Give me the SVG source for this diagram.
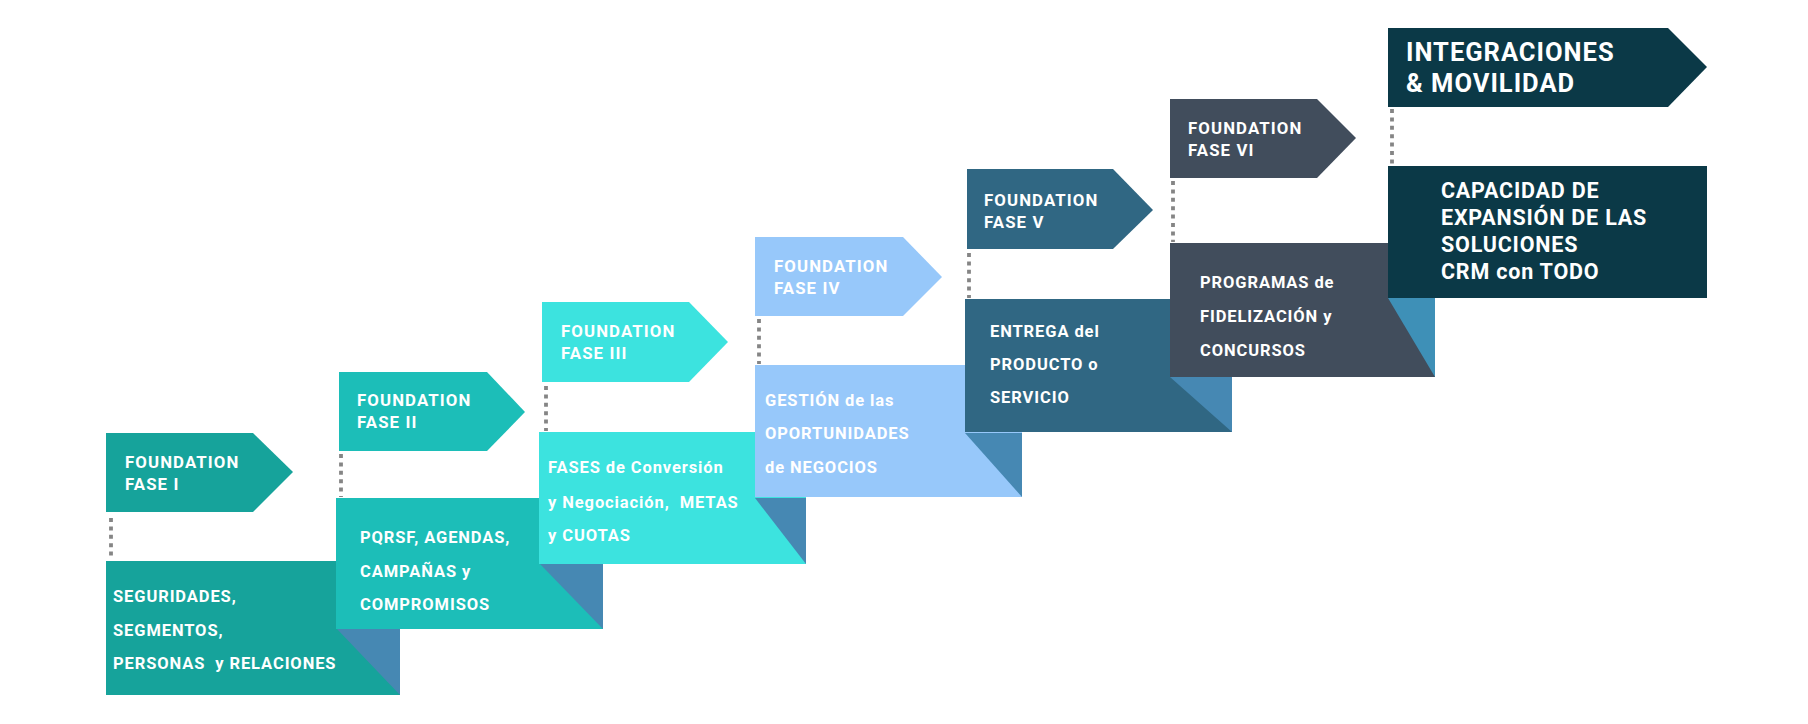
<svg xmlns="http://www.w3.org/2000/svg" width="1808" height="724" viewBox="0 0 1808 724">
<style>
text{font-family:Roboto,"Liberation Sans",sans-serif;font-weight:700;fill:#ffffff;white-space:pre}
.tg{font-size:16.8px;letter-spacing:1.1px}
.bd{font-size:16.5px;letter-spacing:0.9px}
.big{font-size:25.5px;letter-spacing:1px}
.cap{font-size:21.5px;letter-spacing:0.8px}
.fold{fill:#4688B3}
.fold2{fill:#3E90B7}
.dots{stroke:#858585;stroke-width:3.8;stroke-dasharray:4 4.4;fill:none}
.c1{fill:#16A39B}.c2{fill:#1CBEB8}.c3{fill:#3CE3DF}.c4{fill:#97C8FA}.c5{fill:#306783}.c6{fill:#414D5C}.c7{fill:#0B3947}
</style>
<rect width="1808" height="724" fill="#ffffff"/>
<g id="connectors">
<line class="dots" x1="111" y1="518" x2="111" y2="558"/>
<line class="dots" x1="341" y1="454" x2="341" y2="497"/>
<line class="dots" x1="546" y1="386" x2="546" y2="431"/>
<line class="dots" x1="759" y1="319" x2="759" y2="364"/>
<line class="dots" x1="969" y1="253" x2="969" y2="298"/>
<line class="dots" x1="1173" y1="181" x2="1173" y2="242"/>
<line class="dots" x1="1392" y1="109" x2="1392" y2="164"/>
</g>
<g id="box1">
<rect class="c1" x="106" y="561" width="294" height="134"/>
<polygon class="fold" points="337,629 400,629 400,695"/>
<text class="bd" x="113" y="602">SEGURIDADES,</text>
<text class="bd" x="113" y="636">SEGMENTOS,</text>
<text class="bd" x="113" y="669">PERSONAS  y RELACIONES</text>
</g>
<g id="box2">
<rect class="c2" x="336" y="498" width="267" height="131"/>
<polygon class="fold" points="540,564 603,564 603,629"/>
<text class="bd" x="360" y="543">PQRSF, AGENDAS,</text>
<text class="bd" x="360" y="577">CAMPAÑAS y</text>
<text class="bd" x="360" y="610">COMPROMISOS</text>
</g>
<g id="box3">
<rect class="c3" x="539" y="432" width="267" height="132"/>
<polygon class="fold" points="755,498 806,498 806,564"/>
<text class="bd" x="548" y="473">FASES de Conversión</text>
<text class="bd" x="548" y="508">y Negociación,  METAS</text>
<text class="bd" x="548" y="541">y CUOTAS</text>
</g>
<g id="box4">
<rect class="c4" x="755" y="365" width="267" height="132"/>
<polygon class="fold" points="965,433 1022,433 1022,497"/>
<text class="bd" x="765" y="406">GESTIÓN de las</text>
<text class="bd" x="765" y="439">OPORTUNIDADES</text>
<text class="bd" x="765" y="473">de NEGOCIOS</text>
</g>
<g id="box5">
<rect class="c5" x="965" y="299" width="267" height="133"/>
<polygon class="fold" points="1170,377 1232,377 1232,432"/>
<text class="bd" x="990" y="337">ENTREGA del</text>
<text class="bd" x="990" y="370">PRODUCTO o</text>
<text class="bd" x="990" y="403">SERVICIO</text>
</g>
<g id="box6">
<rect class="c6" x="1170" y="243" width="265" height="134"/>
<polygon class="fold2" points="1388,298 1435,298 1435,377"/>
<text class="bd" x="1200" y="288">PROGRAMAS de</text>
<text class="bd" x="1200" y="322">FIDELIZACIÓN y</text>
<text class="bd" x="1200" y="356">CONCURSOS</text>
</g>
<g id="box7">
<rect class="c7" x="1388" y="166" width="319" height="132"/>
<text class="cap" x="1441" y="198">CAPACIDAD DE</text>
<text class="cap" x="1441" y="225">EXPANSIÓN DE LAS</text>
<text class="cap" x="1441" y="252">SOLUCIONES</text>
<text class="cap" x="1441" y="279">CRM con TODO</text>
</g>
<g id="tag1">
<polygon class="c1" points="106,433 253,433 293,472 253,512 106,512"/>
<text class="tg" x="125" y="468">FOUNDATION</text>
<text class="tg" x="125" y="490">FASE I</text>
</g>
<g id="tag2">
<polygon class="c2" points="339,372 487,372 525,412 487,451 339,451"/>
<text class="tg" x="357" y="406">FOUNDATION</text>
<text class="tg" x="357" y="428">FASE II</text>
</g>
<g id="tag3">
<polygon class="c3" points="542,302 689,302 728,342 689,382 542,382"/>
<text class="tg" x="561" y="337">FOUNDATION</text>
<text class="tg" x="561" y="359">FASE III</text>
</g>
<g id="tag4">
<polygon class="c4" points="755,237 903,237 942,277 903,316 755,316"/>
<text class="tg" x="774" y="272">FOUNDATION</text>
<text class="tg" x="774" y="294">FASE IV</text>
</g>
<g id="tag5">
<polygon class="c5" points="967,169 1113,169 1153,210 1113,249 967,249"/>
<text class="tg" x="984" y="206">FOUNDATION</text>
<text class="tg" x="984" y="228">FASE V</text>
</g>
<g id="tag6">
<polygon class="c6" points="1170,99 1317,99 1356,138 1317,178 1170,178"/>
<text class="tg" x="1188" y="134">FOUNDATION</text>
<text class="tg" x="1188" y="156">FASE VI</text>
</g>
<g id="tag7">
<polygon class="c7" points="1388,28 1668,28 1707,67 1668,107 1388,107"/>
<text class="big" x="1406" y="61">INTEGRACIONES</text>
<text class="big" x="1406" y="92">&amp; MOVILIDAD</text>
</g>
</svg>
